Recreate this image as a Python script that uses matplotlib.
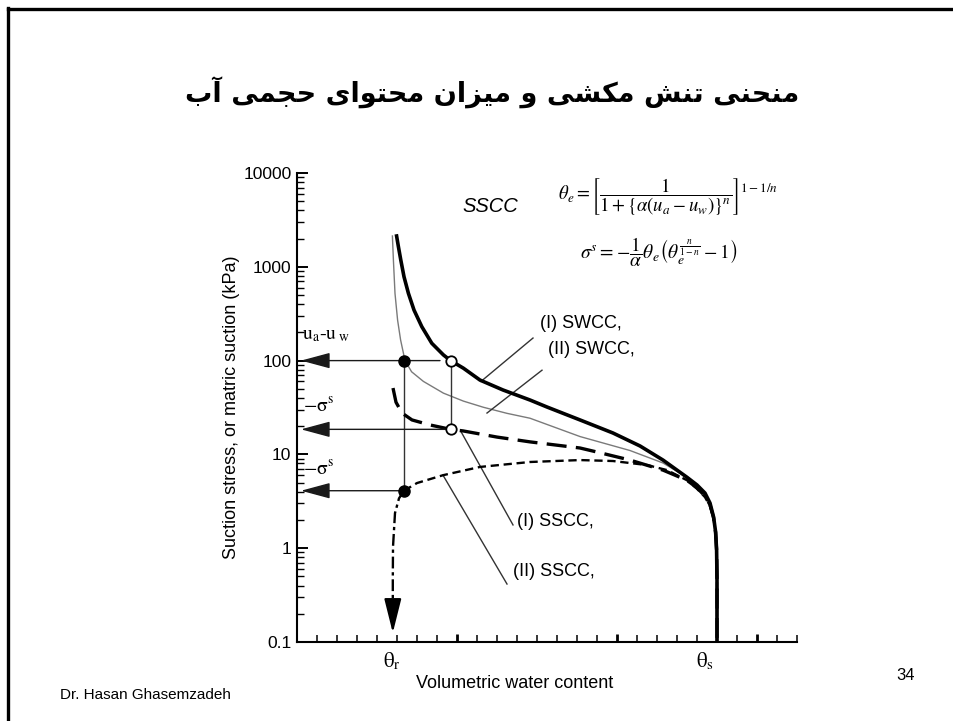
import matplotlib.pyplot as plt
from matplotlib.lines import Line2D
from matplotlib.ticker import FixedLocator, FuncFormatter, NullFormatter

plt.rcParams['font.family'] = ['Liberation Sans', 'DejaVu Sans']
plt.rcParams['mathtext.fontset'] = 'stix'

title_fa = "منحنی تنش مکشی و میزان محتوای حجمی آب"

# x in tick units along the water-content axis, y = suction / suction stress in kPa
swcc1_x = [4.98, 5.07, 5.19, 5.35, 5.57, 5.85, 6.24, 6.74, 7.32, 7.68, 8.32, 9.15,
           10.3, 11.65, 12.5, 14.15, 15.8, 17.15, 18.3, 19.5, 20.0, 20.4, 20.65,
           20.83, 20.93, 20.98, 21.0, 21.0]
swcc1_y = [2130, 1640, 1180, 784, 522, 346, 230, 153, 115, 100, 83, 62,
           48.6, 38, 32, 23.3, 16.9, 12.3, 8.7, 5.7, 4.72, 3.87, 3.03,
           2.15, 1.49, 0.96, 0.46, 0.1]

swcc2_x = [4.77, 4.82, 4.9, 5.03, 5.18, 5.4, 5.73, 6.32, 7.32, 8.32, 9.32, 10.5,
           11.65, 14.15, 16.65, 18.3, 19.5, 20.0, 20.4, 20.65, 20.83, 20.93, 20.98, 21.0, 21.0]
swcc2_y = [2130, 1180, 520, 270, 166, 100, 76, 60, 45, 37, 31.8, 27.4,
           24.3, 15.5, 11.0, 8.1, 5.7, 4.72, 3.87, 3.03, 2.15, 1.49, 0.96, 0.46, 0.1]

sscc1_x = [4.8, 4.95, 5.25, 5.75, 6.65, 7.68, 8.3, 10.0, 11.65, 14.15, 15.0,
           16.65, 18.3, 19.5, 20.0, 20.4, 20.65, 20.83, 20.93, 20.98, 21.0, 21.0]
sscc1_y = [51, 36, 27.6, 23.3, 20.6, 18.5, 17.8, 15.3, 13.6, 11.7, 10.6,
           8.7, 6.8, 5.3, 4.4, 3.6, 2.9, 2.1, 1.47, 0.95, 0.46, 0.1]

sscc2_x = [5.35, 6.0, 7.3, 9.15, 11.65, 14.15, 15.8, 17.5, 18.5, 19.5, 20.0,
           20.4, 20.65, 20.83, 20.93, 20.98, 21.0, 21.0]
sscc2_y = [4.1, 4.95, 6.0, 7.35, 8.3, 8.7, 8.5, 7.7, 6.8, 5.3, 4.3,
           3.5, 2.8, 2.05, 1.45, 0.95, 0.46, 0.1]

# dash-dot drop of curve (II) below the residual point
drop_x = [5.35, 5.1, 4.9, 4.8, 4.79, 4.79]
drop_y = [4.1, 3.4, 2.37, 1.03, 0.46, 0.2]

# read-off points: matric suction and the matching suction stresses
dot_x = [5.35, 5.35]
dot_y = [100, 4.1]
ring_x = [7.68, 7.68]
ring_y = [100, 18.5]

ytick_vals = [0.1, 1, 10, 100, 1000, 10000]
curve_labels = ["(I) SWCC,", "(II) SWCC,", "(I) SSCC,", "(II) SSCC,"]


def shape_fa(text):
    # Persian letters -> presentation forms (isolated, final, initial, medial), visual order
    forms = {
        'ا': (0xFE8D, 0xFE8E, None, None),
        'آ': (0xFE81, 0xFE82, None, None),
        'ب': (0xFE8F, 0xFE90, 0xFE91, 0xFE92),
        'ت': (0xFE95, 0xFE96, 0xFE97, 0xFE98),
        'ج': (0xFE9D, 0xFE9E, 0xFE9F, 0xFEA0),
        'ح': (0xFEA1, 0xFEA2, 0xFEA3, 0xFEA4),
        'ز': (0xFEAF, 0xFEB0, None, None),
        'ش': (0xFEB5, 0xFEB6, 0xFEB7, 0xFEB8),
        'م': (0xFEE1, 0xFEE2, 0xFEE3, 0xFEE4),
        'ن': (0xFEE5, 0xFEE6, 0xFEE7, 0xFEE8),
        'و': (0xFEED, 0xFEEE, None, None),
        'ی': (0xFBFC, 0xFBFD, 0xFBFE, 0xFBFF),
        'ک': (0xFB8E, 0xFB8F, 0xFB90, 0xFB91),
    }
    out = []
    for i, ch in enumerate(text):
        f = forms.get(ch)
        if f is None:
            out.append(ch)
            continue
        prev = text[i - 1] if i > 0 else None
        nxt = text[i + 1] if i + 1 < len(text) else None
        join_prev = prev in forms and forms[prev][2] is not None
        join_next = f[2] is not None and nxt in forms
        if join_prev and join_next:
            code = f[3]
        elif join_prev:
            code = f[1]
        elif join_next:
            code = f[2]
        else:
            code = f[0]
        out.append(chr(code))
    return ''.join(out)[::-1]


W, H = 954, 721


def fp(x, y):
    return x / W, 1 - y / H


fig = plt.figure(figsize=(W / 100, H / 100), dpi=100)

# slide frame (top and left edges)
fig.add_artist(Line2D([8.5 / W, 1], [1 - 8.5 / H] * 2, transform=fig.transFigure, lw=2.4, color='black'))
fig.add_artist(Line2D([8.5 / W] * 2, [0, 1 - 7.5 / H], transform=fig.transFigure, lw=2.4, color='black'))

fig.text(*fp(492, 93), shape_fa(title_fa), ha='center', va='center', fontsize=19.5,
         fontweight='bold', family=['DejaVu Sans'])

ax = fig.add_axes([297 / W, 1 - 642 / H, 500 / W, 469 / H])
ax.set_yscale('log')
ax.set_xlim(0, 25)
ax.set_ylim(0.1, 10000)
for s in ['top', 'right']:
    ax.spines[s].set_visible(False)
for s in ['left', 'bottom']:
    ax.spines[s].set_linewidth(1.5)

ax.yaxis.set_major_locator(FixedLocator(ytick_vals))
ax.yaxis.set_major_formatter(FuncFormatter(lambda v, _: f'{v:g}'))
ax.yaxis.set_minor_locator(FixedLocator([m * d for d in [0.1, 1, 10, 100, 1000] for m in range(2, 10)]))
ax.yaxis.set_minor_formatter(NullFormatter())
ax.tick_params(axis='y', which='major', direction='in', length=8, width=1.4, labelsize=12.5, pad=4)
ax.tick_params(axis='y', which='minor', direction='in', length=5, width=1.0)

ax.xaxis.set_major_locator(FixedLocator([8, 16, 23]))
ax.xaxis.set_minor_locator(FixedLocator([i for i in range(1, 26) if i not in (8, 16, 23)]))
ax.xaxis.set_major_formatter(NullFormatter())
ax.tick_params(axis='x', which='major', direction='in', length=6, width=2.0)
ax.tick_params(axis='x', which='minor', direction='in', length=5, width=1.1)

# curves
ax.plot(swcc2_x, swcc2_y, color='#7a7a7a', lw=1.0, zorder=2)
ax.plot(swcc1_x, swcc1_y, color='black', lw=2.6, zorder=3)
ax.plot(sscc1_x, sscc1_y, color='black', lw=2.4, dashes=(6, 2.8), zorder=3)
ax.plot(sscc2_x, sscc2_y, color='black', lw=1.7, dashes=(3.5, 2.0), zorder=3)
ax.plot(drop_x, drop_y, color='black', lw=1.7, dashes=(5, 1.6, 1.4, 1.6), zorder=3)

# guide lines and arrows
guide = dict(color='#333333', lw=1.0)
ax.plot([dot_x[0], dot_x[1]], [dot_y[0], dot_y[1]], **guide)
ax.plot([ring_x[0], ring_x[1]], [ring_y[0], ring_y[1]], **guide)
arrow = dict(arrowstyle='-|>,head_length=1.3,head_width=0.35', color='#1a1a1a', lw=1.0,
             shrinkA=0, shrinkB=0, mutation_scale=14)
ax.annotate('', xy=(0.2, ring_y[0]), xytext=(7.15, ring_y[0]), arrowprops=arrow)
ax.annotate('', xy=(0.2, ring_y[1]), xytext=(7.45, ring_y[1]), arrowprops=arrow)
ax.annotate('', xy=(0.2, dot_y[1]), xytext=(5.1, dot_y[1]), arrowprops=arrow)
ax.annotate('', xy=(drop_x[-1], 0.125), xytext=(drop_x[-1], drop_y[-1]),
            arrowprops=dict(arrowstyle='-|>,head_length=1.4,head_width=0.35', color='black',
                            lw=1.6, shrinkA=0, shrinkB=0, mutation_scale=15))

ax.plot(dot_x, dot_y, 'o', color='black', ms=8, zorder=5)
ax.plot(ring_x, ring_y, 'o', mfc='white', mec='black', mew=1.3, ms=7.5, zorder=5)

# leader lines to the curve labels
leaders = [((11.8, 174), (9.2, 60)), ((12.25, 79), (9.5, 27.6)),
           ((10.8, 1.77), (8.2, 17.5)), ((10.5, 0.415), (7.3, 6.0))]
for (x0, y0), (x1, y1) in leaders:
    ax.plot([x0, x1], [y0, y1], color='#333333', lw=1.0)

label_pos = [(540, 324), (548, 350), (517, 521), (513, 572)]
for txt, (px, py) in zip(curve_labels, label_pos):
    fig.text(*fp(px, py), txt, ha='left', va='center', fontsize=13)

fig.text(*fp(302, 335), r'$\mathrm{u_a}$-$\mathrm{u_{\ w}}$', ha='left', va='center',
         fontsize=14, family=['Liberation Serif'])
fig.text(*fp(303, 406), r'$-\mathrm{\sigma}^\mathrm{s}$', ha='left', va='center', fontsize=14)
fig.text(*fp(303, 469), r'$-\mathrm{\sigma}^\mathrm{s}$', ha='left', va='center', fontsize=14)

fig.text(*fp(462, 207), 'SSCC', ha='left', va='center', fontsize=14.5, style='italic')
fig.text(*fp(558, 197), r'$\theta_e=\left[\dfrac{1}{1+\{\alpha(u_a-u_w)\}^n}\right]^{1-1/n}$',
         ha='left', va='center', fontsize=13.5)
fig.text(*fp(580, 252), r'$\sigma^s=-\dfrac{1}{\alpha}\theta_e\left(\theta_e^{\frac{n}{1-n}}-1\right)$',
         ha='left', va='center', fontsize=14)

# axis texts
fig.text(*fp(232, 407), 'Suction stress, or matric suction (kPa)', rotation=90,
         ha='center', va='center', fontsize=13)
fig.text(*fp(392, 661), r'$\mathrm{\theta}_\mathrm{r}$', ha='center', va='center', fontsize=15)
fig.text(*fp(705, 661), r'$\mathrm{\theta}_\mathrm{s}$', ha='center', va='center', fontsize=15)
fig.text(*fp(515, 684), 'Volumetric water content', ha='center', va='center', fontsize=13)

fig.text(*fp(60, 695), 'Dr. Hasan Ghasemzadeh', ha='left', va='center', fontsize=11)
fig.text(*fp(906, 676), '34', ha='center', va='center', fontsize=12)

fig.savefig('out.png', dpi=100)
